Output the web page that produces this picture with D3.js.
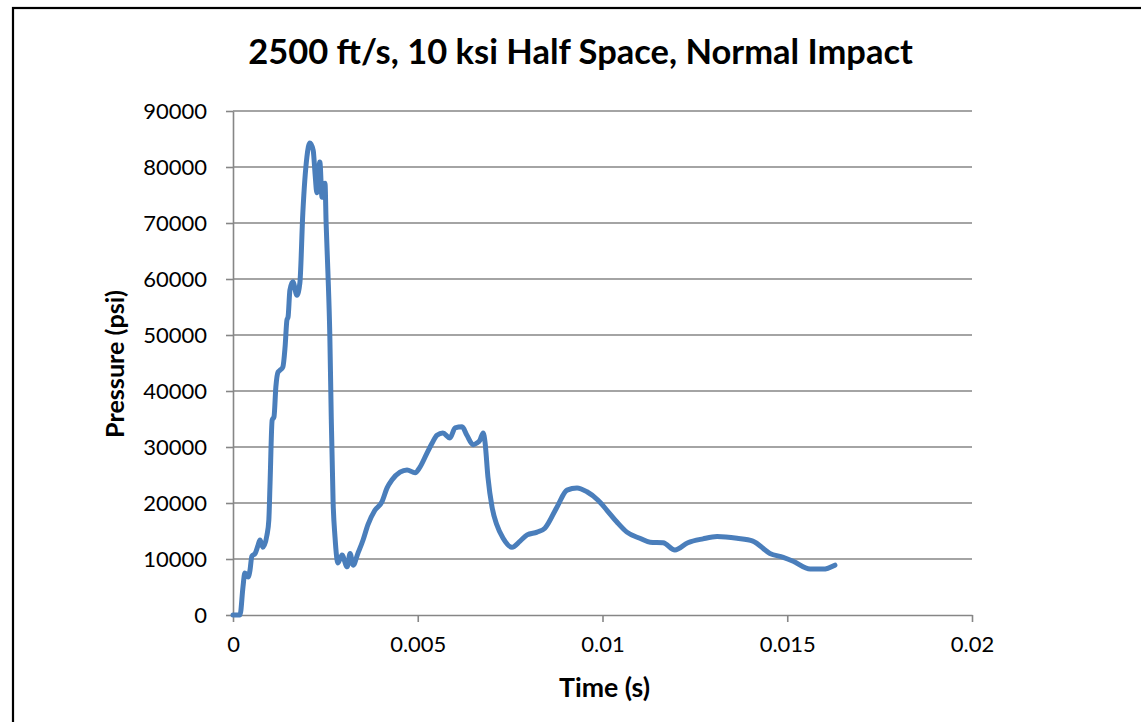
<!DOCTYPE html>
<html>
<head>
<meta charset="utf-8">
<script src="https://cdn.jsdelivr.net/npm/d3@7"></script>
<style>
  html, body { margin: 0; padding: 0; background: #fff; }
  svg { display: block; }
</style>
</head>
<body>
<svg id="chart" width="1141" height="722"></svg>
<script>
// Pressure trace: time (s) and pressure (psi)
const timeS = [
  0.0000, 0.00019, 0.00027, 0.00032, 0.00041, 0.00046, 0.00051, 0.00060, 0.00068, 0.00073,
  0.00081, 0.00092, 0.00097, 0.00100, 0.00106, 0.00111, 0.00116, 0.00122, 0.00127, 0.00135,
  0.00141, 0.00146, 0.00149, 0.00154, 0.00162, 0.00173, 0.00181, 0.00189, 0.00200, 0.00208,
  0.00217, 0.00222, 0.00227, 0.00235, 0.00241, 0.00249, 0.00252, 0.00257, 0.00262, 0.00266,
  0.00271, 0.00276, 0.00284, 0.00295, 0.00309, 0.00317, 0.00325, 0.00338, 0.00352, 0.00365,
  0.00384, 0.00403, 0.00417, 0.00430, 0.00452, 0.00471, 0.00493, 0.00506, 0.00525, 0.00539,
  0.00552, 0.00568, 0.00587, 0.00601, 0.00620, 0.00633, 0.00650, 0.00660, 0.00668, 0.00677,
  0.00682, 0.00690, 0.00701, 0.00714, 0.00731, 0.00755, 0.00777, 0.00796, 0.00823, 0.00844,
  0.00877, 0.00904, 0.00931, 0.00958, 0.00988, 0.01012, 0.01039, 0.01066, 0.01101, 0.01129,
  0.01164, 0.01196, 0.01231, 0.01272, 0.01310, 0.01364, 0.01407, 0.01453, 0.01489, 0.01516,
  0.01562, 0.01597, 0.01629
];
const pressurePsi = [
  0, 0, 5000, 7500, 6800, 8000, 10500, 11000, 12500, 13400,
  12100, 14300, 17000, 22900, 34800, 35400, 40700, 43400, 43700, 44300,
  47900, 52700, 53200, 58000, 59500, 57100, 59300, 71800, 81800, 84300,
  83000, 78900, 75400, 80900, 74600, 77100, 70000, 61000, 50000, 35000,
  20000, 14000, 9300, 10700, 8600, 11000, 8900, 11000, 13400, 16100,
  18700, 20200, 22700, 24100, 25500, 25900, 25400, 26400, 28900, 30700,
  32100, 32500, 31600, 33400, 33600, 32100, 30400, 30700, 31200, 32500,
  30900, 24600, 19300, 16100, 13700, 12100, 13200, 14300, 14800, 15500,
  19300, 22300, 22700, 22000, 20500, 18700, 16600, 14800, 13700, 13000,
  12900, 11600, 12900, 13600, 14000, 13700, 13200, 11000, 10300, 9600,
  8200, 8200, 8900
];

// Axis ticks
const xTicks = [0, 0.005, 0.01, 0.015, 0.02];
const xTickLabels = ["0", "0.005", "0.01", "0.015", "0.02"];
const yTicks = [0, 10000, 20000, 30000, 40000, 50000, 60000, 70000, 80000, 90000];

const titleText = "2500 ft/s, 10 ksi Half Space, Normal Impact";
const xLabel = "Time (s)";
const yLabel = "Pressure (psi)";

const svg = d3.select("#chart");
const W = 1141, H = 722;
const font = "Lato, 'Open Sans', sans-serif";
const gridColor = "#868686";
const lineColor = "#4a7ebb";

svg.append("rect").attr("width", W).attr("height", H).attr("fill", "#fff");

// Chart frame (runs past the right and bottom edges)
svg.append("rect")
  .attr("x", 13).attr("y", 8)
  .attr("width", 1400).attr("height", 1000)
  .attr("fill", "none").attr("stroke", "#000").attr("stroke-width", 2.2);

const plot = { left: 233, right: 972, top: 111, bottom: 615 };

const x = d3.scaleLinear().domain([0, 0.02]).range([plot.left, plot.right]);
const y = d3.scaleLinear().domain([0, 90000]).range([plot.bottom, plot.top]);

// Horizontal gridlines
svg.append("g")
  .selectAll("line")
  .data(yTicks.filter(d => d > 0))
  .join("line")
  .attr("x1", plot.left).attr("x2", plot.right)
  .attr("y1", d => y(d)).attr("y2", d => y(d))
  .attr("stroke", gridColor).attr("stroke-width", 1.6);

// Y axis
const yAxis = svg.append("g")
  .attr("transform", `translate(${plot.left},0)`)
  .call(d3.axisLeft(y).tickValues(yTicks).tickSize(7).tickSizeOuter(0).tickPadding(19)
    .tickFormat(d3.format("d")));
yAxis.select(".domain").attr("stroke", gridColor).attr("stroke-width", 1.6);
yAxis.selectAll(".tick line").attr("stroke", gridColor).attr("stroke-width", 1.6);
yAxis.selectAll(".tick text")
  .attr("font-family", font).attr("font-size", 22).attr("fill", "#000");

// X axis
const xAxis = svg.append("g")
  .attr("transform", `translate(0,${plot.bottom})`)
  .call(d3.axisBottom(x).tickValues(xTicks).tickSize(7).tickSizeOuter(0).tickPadding(14)
    .tickFormat((d, i) => xTickLabels[i]));
xAxis.select(".domain").attr("stroke", gridColor).attr("stroke-width", 1.6);
xAxis.selectAll(".tick line").attr("stroke", gridColor).attr("stroke-width", 1.6);
xAxis.selectAll(".tick text")
  .attr("font-family", font).attr("font-size", 22).attr("fill", "#000");

// Data line
const pts = timeS.map((t, i) => [t, pressurePsi[i]]);
const line = d3.line()
  .x(d => x(d[0]))
  .y(d => y(d[1]))
  .curve(d3.curveMonotoneX);
svg.append("path")
  .datum(pts)
  .attr("d", line)
  .attr("fill", "none")
  .attr("stroke", lineColor)
  .attr("stroke-width", 5)
  .attr("stroke-linejoin", "round")
  .attr("stroke-linecap", "round");

// Text helper: fit a label to a target width
function fitText(sel, targetWidth) {
  const w = sel.node().getComputedTextLength();
  const fs = parseFloat(sel.attr("font-size"));
  sel.attr("font-size", fs * targetWidth / w);
}

const title = svg.append("text")
  .attr("x", 580.5).attr("y", 64)
  .attr("text-anchor", "middle")
  .attr("font-family", font).attr("font-weight", "bold").attr("font-size", 30)
  .attr("fill", "#000")
  .text(titleText);
fitText(title, 665);

const xl = svg.append("text")
  .attr("x", 604.5).attr("y", 697)
  .attr("text-anchor", "middle")
  .attr("font-family", font).attr("font-weight", "bold").attr("font-size", 19)
  .attr("fill", "#000")
  .text(xLabel);
fitText(xl, 91);

const yl = svg.append("text")
  .attr("transform", "translate(124,364) rotate(-90)")
  .attr("text-anchor", "middle")
  .attr("font-family", font).attr("font-weight", "bold").attr("font-size", 19)
  .attr("fill", "#000")
  .text(yLabel);
fitText(yl, 148);
</script>
</body>
</html>
